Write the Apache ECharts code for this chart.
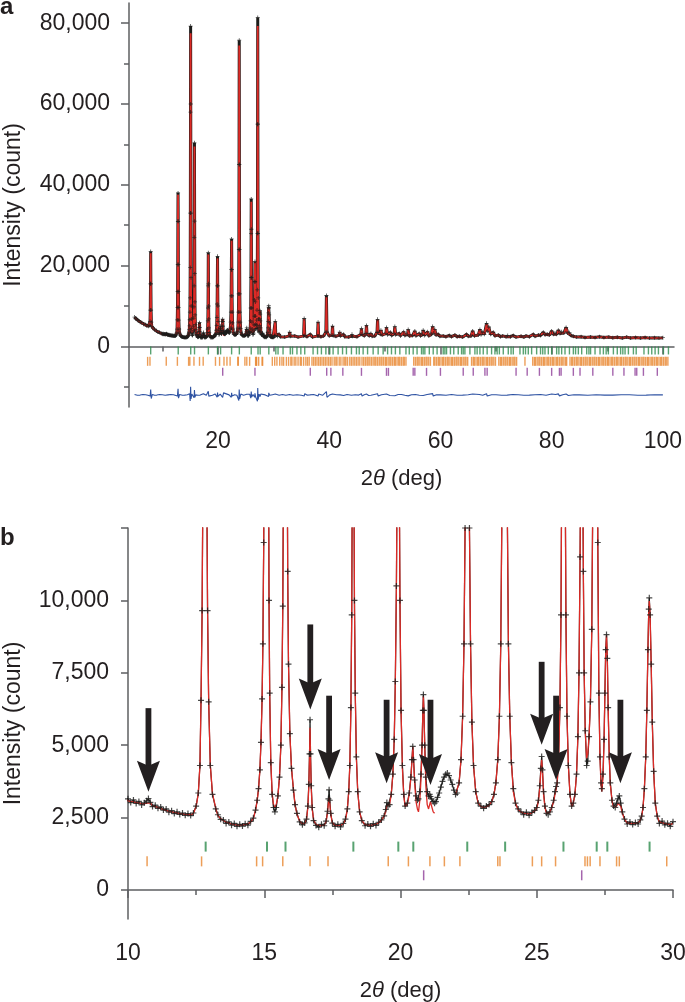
<!DOCTYPE html>
<html>
<head>
<meta charset="utf-8">
<script src="https://cdn.jsdelivr.net/npm/echarts@6/dist/echarts.min.js"></script>
<style>
html,body{margin:0;padding:0;background:#fff;}
#chart{width:685px;height:1002px;}
</style>
</head>
<body>
<div id="chart"></div>
<script>
// ---------- DATA ----------
// Profile 5–30 deg: [2theta, observed, calculated]; calculated omitted = same as observed; null = excluded region
const profileLow = [
[5.0,7250,7100],[5.2,6850,6900],[5.4,6700,6650],[5.6,6380,6450],[5.8,6300,6250],[6.0,6000,6080],[6.3,5850,5820],[6.6,5500,5560],[6.9,5400,5330],[7.2,5050,5120],[7.5,5000,4950],[7.7,5150,5100],
[7.78,6200,6100],[7.83,9000,8800],[7.87,15500,15000],[7.9,23500,23100],[7.93,15500,15200],[7.97,9000,8800],[8.02,6000],[8.1,4900,4950],[8.3,4500,4450],[8.6,4150,4200],[8.9,3950,3880],[9.2,3580,3650],[9.5,3480,3420],[9.8,3200,3250],
[10.0,3150,3080],[10.1,3020,3060],[10.2,3110,3040],[10.3,2990,3020],[10.4,3060,3000],[10.5,2940,2980],[10.6,3010,2970],[10.68,3080,3010],[10.75,3160,3060],[10.82,3030,3000],[10.9,2880,2920],[11.0,2930,2880],[11.1,2820,2850],[11.2,2870,2810],[11.3,2760,2780],[11.4,2800,2750],[11.5,2690,2720],[11.6,2740,2700],[11.7,2640,2680],[11.8,2700,2660],[11.9,2610,2640],[12.0,2660,2630],[12.1,2580,2610],[12.2,2640,2600],[12.3,2570,2600],[12.4,2660,2640],
[12.5,2900,2880],[12.58,3350,3330],[12.64,4300,4320],[12.68,6550],[12.72,9650],[12.745,13550,13500],[12.77,20250,20200],[12.795,30950,30900],[12.82,38000,37600],[12.845,30950,30900],[12.87,20250,20200],[12.895,13550,13500],[12.92,9650],[12.96,6500,6550],[13.02,4300,4320],[13.1,3300,3330],[13.22,2800,2830],
[13.3,2600,2560],[13.4,2440,2470],[13.5,2420,2400],[13.6,2300,2350],[13.7,2350,2310],[13.8,2240,2280],[13.9,2300,2260],[14.0,2200,2250],[14.1,2270,2240],[14.2,2210,2250],[14.3,2290,2260],[14.4,2240,2290],[14.5,2370,2350],
[14.6,2480,2470],[14.68,2760,2750],[14.74,3100,3080],[14.79,3500,3480],[14.84,4150],[14.88,5100],[14.92,6600,6550],[14.95,8500,8450],[14.98,12000,11900],[15.01,19500,19300],[15.035,33000,32500],[15.06,58000,57000],[15.08,79300,77500],[15.1,60000,59000],[15.125,33000],[15.15,17000],[15.175,10000],[15.2,6800],[15.24,4400,4450],[15.29,3300,3350],[15.34,2850,2950],[15.39,2700,2850],[15.44,2850,2950],
[15.5,3250],[15.56,3900],[15.61,5000],[15.65,7000],[15.68,9800],[15.71,15000],[15.74,27000],[15.77,50400,49500],[15.8,31000],[15.83,18000],[15.86,11000],[15.89,7800],[15.94,5400],[16.0,4200],[16.07,3450,3500],[16.13,2950],[16.2,2650,2620],
[16.3,2350,2380],[16.4,2250,2290],[16.48,2320,2290],
[16.55,2450,2420],[16.6,2900,2850],[16.635,3650,3550],[16.66,4700,4550],[16.68,5880,5600],[16.7,4700,4500],[16.725,3600,3500],[16.76,2850,2800],[16.81,2400,2420],
[16.9,2230,2270],[17.0,2170,2230],[17.1,2270,2220],[17.2,2220,2250],
[17.27,2380,2350],[17.32,2720,2650],[17.355,3150,3000],[17.38,3460,3180],[17.405,3100,2980],[17.44,2650,2600],[17.5,2310,2330],
[17.6,2200,2240],[17.7,2270,2230],[17.8,2180,2240],[17.9,2300,2280],[17.98,2450,2420],
[18.05,2800,2780],[18.1,3400],[18.14,4300],[18.18,6300],[18.21,9500],[18.235,15000],[18.26,23200,22800],[18.285,15500],[18.31,10000],[18.34,6800],[18.38,4600],[18.43,3400],[18.5,2700],[18.58,2400],
[18.7,2220,2260],[18.8,2280,2240],[18.9,2200,2240],[19.0,2290,2250],[19.1,2230,2280],[19.2,2340,2320],[19.3,2420,2400],
[19.4,2560,2550],[19.46,2780,2720],[19.5,3020,2900],[19.54,2900,2850],[19.6,2950],
[19.66,3300],[19.72,4000],[19.77,5200],[19.81,7200],[19.85,10500],[19.88,15000],[19.92,22300,21800],[19.95,15000],[19.98,10000],[20.02,6200],[20.07,4300,4200],[20.12,3300,3250],[20.17,2900,2880],
[20.25,3000,2950],[20.32,3350,3300],[20.38,3900,3850],[20.42,4500,4450],[20.45,4960,4950],[20.48,4500,4450],[20.52,3800,3700],[20.57,3250,3050],[20.62,3100,2800],[20.66,3150,2700],
[20.71,3400,3100],[20.75,4000,3800],[20.79,5000,4900],[20.82,6200,6100],[20.84,6750,6700],[20.86,6200],[20.89,5000,4900],[20.93,3900,3600],[20.98,3400,2950],
[21.03,3250,2800],[21.07,3300,2950],[21.1,3230,3050],[21.14,3150,2900],[21.2,3050,2700],[21.25,3000,2650],
[21.3,3050,null],[21.36,3200,null],[21.42,3350,null],[21.48,3550,null],[21.54,3750,null],[21.6,3900,null],[21.66,4000,null],[21.72,4040,null],[21.78,3950,null],[21.84,3800,null],[21.9,3650,null],[21.96,3450,null],[22.02,3300],
[22.08,3350],[22.15,3700],[22.22,4500],[22.28,6000],[22.33,8500],[22.37,12500],[22.41,19000],[22.45,26600,26200],[22.49,19000],[22.53,12500],[22.57,8500],[22.62,5800],[22.68,4300],[22.76,3400],[22.85,3000],
[22.95,2900,2880],[23.05,2820,2860],[23.15,2900,2870],[23.25,2950,2920],[23.35,3050],
[23.43,3300],[23.5,3700],[23.57,4500],[23.63,6000],[23.68,8500],[23.72,13000],[23.76,24000],[23.79,45000],[23.82,75800,74500],[23.85,45000],[23.88,24000],[23.92,13000],[23.96,8500],[24.01,6000],[24.07,4400],[24.14,3500,3400],[24.22,3000],[24.32,2800,2760],
[24.42,2700],[24.52,2600,2660],[24.62,2690,2640],[24.72,2580,2630],[24.82,2680,2660],[24.92,2750,2720],
[25.0,2850,2820],[25.06,3100,3050],[25.11,3600,3500],[25.15,4200,4100],[25.18,4610,4500],[25.21,4150,4100],[25.25,3400,3300],[25.3,2900,2850],[25.36,2650],[25.42,2600,2620],[25.48,2700,2680],
[25.55,2850],[25.62,3100,3050],[25.67,3400,3300],[25.71,3575,3460],[25.75,3700],[25.8,4500],[25.85,6300],[25.89,9500],[25.93,17000],[25.96,28000],[25.98,36500,35800],[26.0,29000],[26.03,17000],[26.07,9500],[26.11,6000],[26.16,4300],[26.22,3300],[26.28,2900,2880],[26.34,3000],
[26.4,3300],[26.46,4000],[26.51,5300],[26.55,7500],[26.59,11500],[26.62,16000],[26.65,21000,20700],[26.68,16000],[26.71,11000],[26.74,7500],[26.78,5500],[26.83,4300,4550],[26.87,4450,4700],
[26.92,5300],[26.97,6500],[27.02,9000],[27.06,14000],[27.1,28000],[27.13,55000],[27.15,81400,79300],[27.17,55000],[27.2,28000],[27.24,12000],[27.28,6800],[27.32,4600],[27.36,3700,3600],[27.39,3500,3400],
[27.43,4000,3900],[27.47,5200,5100],[27.5,6800,6700],[27.53,8300,8200],[27.56,8820,8800],[27.59,8000],[27.62,6300],[27.66,4600],[27.7,3700,3650],[27.76,3100],[27.82,2900,2850],[27.88,2850,2800],
[27.93,3000,2900],[27.98,3150,3000],[28.03,3250,3050],[28.08,3000,2900],[28.14,2700,2650],[28.22,2450],
[28.32,2280,2320],[28.42,2350,2300],[28.52,2260,2300],[28.62,2330,2310],[28.72,2280,2330],[28.8,2420,2400],
[28.85,2550],[28.9,2850],[28.95,3500],[29.0,4600],[29.04,6200],[29.08,8300],[29.11,9700,9600],[29.13,10090,9980],[29.16,9500],[29.2,7800],[29.24,5800],[29.29,4100],[29.35,3000],[29.42,2550],
[29.5,2300,2360],[29.6,2380,2320],[29.7,2250,2300],[29.8,2310,2280],[29.9,2200,2270],[30.0,2360,2290]
];

// Profile 30–100 deg (panel a only): [2theta, observed, calculated]
const profileHigh = [
[30.1,2300],[30.2,2600],[30.3,6200,6100],[30.4,2700],[30.7,2500],[31.0,3000],[31.2,2400],[32.0,2300],[32.8,2600],[32.9,3500,3400],[33.0,2500],[33.8,2600],[34.4,2300],
[35.4,2600],[35.5,6900,6800],[35.6,2700],[36.0,2400],[36.6,3000],[37.0,2300],[37.9,2600],[38.0,6000,5900],[38.1,2600],[38.5,2400],[39.0,2600],
[39.4,3500],[39.5,12600,12200],[39.6,3600],[40.0,2600],[40.5,2800],[40.6,5000,4900],[40.7,2700],[41.2,2500],[41.8,2800],[41.9,3500],[42.0,2600],[42.6,3000],[42.8,2400],[43.5,2300],[44.0,2600],[44.1,3000],[44.2,2500],[45.0,2400],
[45.7,3000],[45.8,4400,4300],[45.9,3000],[46.3,2600],[46.6,3200],[46.7,5200,5100],[46.8,3100],[47.2,2600],[47.5,3200],[47.7,2500],[48.2,2600],[48.6,3500],[48.7,6700,6600],[48.8,3400],[49.2,3000],[49.3,4000],[49.5,2800],
[50.2,3200],[50.3,4700,4600],[50.5,2900],[51.0,3500],[51.2,2700],[51.7,3200],[51.8,4900,4800],[51.95,2900],[52.6,3200],[52.8,2600],[53.4,3600],[53.6,2700],[54.1,3000],[54.2,4200,4100],[54.4,2600],[55.0,2700],[55.4,3800],[55.6,2600],
[56.2,3200],[56.4,2600],[56.8,3000],[56.9,4000,3900],[57.1,2700],[57.7,3600],[57.9,2600],[58.4,3000],[58.6,4900,4800],[58.8,3300],[59.0,4200],[59.2,2800],[59.6,3000],[59.9,2500],
[60.5,2600],[61.0,2400],[61.6,2700],[62.0,2400],[62.6,2800],[63.0,2400],[63.4,2500],[64.0,2300],[64.7,3000],[65.0,2500],[65.5,2600],[65.8,3800],[66.1,2600],[66.8,2800],[67.1,4200,4100],[67.3,2900],[67.6,3500],[67.9,3000],[68.3,5700,5500],[68.5,3800],[68.7,4800],[69.0,3000],[69.5,3500],[69.8,2600],
[70.4,2800],[70.8,2400],[71.2,2600],[71.8,2400],[72.1,2700],[72.6,2400],[73.1,2700],[73.6,2300],[74.5,2500],[75.0,2300],[75.4,2600],[76.0,2400],[76.7,3000],[77.0,2500],[77.6,2800],[78.0,2700],[78.5,3500],[78.8,2900],[79.2,3000],[79.6,2800],
[80.0,3800],[80.3,3000],[80.6,3300],[80.9,3000],[81.2,4000],[81.5,3200],[81.8,3600],[82.2,3300],[82.6,4700,4600],[82.9,3300],[83.2,3400],[83.5,2700],[83.9,2500],[84.5,2300],
[85.3,2400],[86.0,2200],[87.0,2300],[87.8,2200],[88.6,2400],[89.4,2200],[90.3,2300],[91.0,2150],[91.8,2250],[92.7,2100],[93.5,2300],[94.2,2100],[95.1,2200],[96.0,2100],[96.8,2200],[97.6,2050],[98.5,2150],[99.3,2050],[100.0,2150]
];

// Difference curve (obs - calc, offset), panel a
const diffCurve = [
[5,-11900],[5.5,-12100],[6,-12050],[6.5,-11900],[7,-11950],[7.4,-12100],[7.8,-12300],[7.9,-10700],[8.0,-12900],[8.2,-11900],[8.6,-12100],[9,-12050],[9.5,-11900],[10,-11950],[10.5,-12100],[11,-12000],[11.5,-11900],[12,-11950],[12.7,-12300],[12.82,-10500],[12.9,-12800],[13.1,-11900],[13.6,-12100],[14,-12050],[14.5,-11950],[14.9,-11700],[15.0,-13500],[15.08,-10000],[15.15,-13000],[15.3,-11800],[15.7,-12700],[15.77,-10800],[15.85,-12600],[16.0,-12000],[16.4,-12100],[16.68,-11650],[16.8,-12050],[17.1,-11950],[17.38,-11700],[17.6,-12000],[17.9,-12100],[18.2,-12500],[18.26,-11100],[18.35,-12300],[18.6,-11950],[19.0,-12100],[19.5,-11800],[19.85,-12600],[19.92,-11400],[20.0,-12400],[20.4,-11800],[20.65,-11500],[20.84,-12600],[21.0,-11500],[21.25,-11700],[22.0,-12000],[22.4,-12600],[22.45,-11500],[22.55,-12300],[23.0,-11950],[23.4,-12100],[23.75,-13400],[23.82,-10700],[23.9,-13000],[24.1,-11800],[24.6,-12100],[25.18,-11850],[25.4,-12100],[25.71,-11850],[25.9,-12800],[25.98,-11200],[26.06,-12500],[26.3,-11900],[26.6,-12600],[26.65,-11600],[26.75,-12400],[26.86,-12200],[27.1,-13600],[27.15,-10300],[27.22,-13200],[27.4,-11800],[27.56,-12400],[27.7,-11800],[28.03,-11800],[28.5,-12000],[28.8,-12100],[29.1,-12400],[29.13,-11500],[29.3,-12100],
[29.8,-11950],[30.3,-11800],[30.6,-12150],[31,-12100],[31.6,-11900],[32.2,-12100],[32.9,-11900],[33.5,-12100],[34.2,-11950],[35.0,-12100],[35.5,-12300],[35.6,-11700],[36.0,-12050],[36.5,-12000],[37.2,-11900],[38.0,-12300],[38.1,-11800],[38.8,-12100],[39.5,-11200],[39.6,-12600],[40.1,-12000],[40.6,-11800],[40.7,-12200],[41.3,-11950],[42,-12000],[42.6,-12150],[43.2,-11900],[44,-12100],[44.7,-11950],[45.3,-12050],[45.8,-11700],[45.9,-12300],[46.3,-11950],[46.7,-11800],[47.1,-12150],[47.5,-12100],[48.1,-11900],[48.7,-11700],[48.8,-12300],[49.4,-11950],[50.3,-11800],[50.9,-12150],[51.8,-12200],[52.4,-11900],[53,-11900],[53.6,-12100],[54.2,-12250],[54.8,-11950],[55.5,-11900],[56.2,-12100],[56.9,-12150],[57.6,-11900],[58.6,-11700],[58.7,-12300],[59.3,-11950],[60,-12000],[61,-12100],[62,-11900],[63,-12100],[64,-12050],[65,-11950],[65.8,-11800],[66,-12200],[67,-11900],[67.6,-12100],[68.3,-11700],[68.4,-12300],[69.2,-11950],[70,-11950],[71,-12100],[72,-12050],[73,-11900],[74,-11950],[75,-12100],[76,-12050],[77,-11950],[78,-11900],[79,-12100],[79.6,-11900],[80,-11800],[80.2,-12200],[80.7,-11900],[81.2,-11750],[81.4,-12250],[82,-11950],[82.6,-11800],[83,-12150],[84,-11950],[85,-12000],[86.5,-12100],[88,-11950],[89.5,-12050],[91,-12050],[92.5,-11950],[94,-11950],[95.5,-12100],[97,-12050],[98.5,-11950],[100,-12000]
];

// Reflection positions (2theta) of the three phases
const greenTicks = [7.9,12.85,15.1,15.78,18.27,19.92,20.47,22.45,23.84,25.98,27.2,27.59,29.14,
30.4,30.8,31.7,33.0,33.4,34.2,34.9,35.6,37.1,37.9,38.6,39.4,40.1,40.7,41.6,42.4,43.1,44.0,44.9,45.4,46.1,46.9,47.9,48.8,49.7,50.5,51.2,51.9,52.7,53.8,54.4,55.1,55.8,56.6,56.9,57.2,58.0,58.7,59.4,60.5,60.8,61.1,61.8,62.4,63.2,63.8,64.1,64.4,65.3,66.2,66.6,67.1,67.7,68.4,69.2,69.8,70.2,70.6,71.3,72.2,72.7,73.1,74.3,74.9,75.3,75.8,76.4,77.3,78.0,78.4,78.8,79.4,80.0,80.9,81.3,81.8,82.4,83.2,83.9,84.3,84.8,85.4,86.3,86.7,87.0,87.8,88.7,89.3,89.8,90.2,91.1,91.8,92.4,92.8,93.2,93.8,94.7,95.2,96.6,97.4,98.0,98.6,99.2,100.1,101.0];
const orangeTicks = [7.35,7.77,10.7,12.7,14.72,14.94,15.68,16.68,17.34,19.55,20.29,21.08,21.61,22.18,23.57,23.65,24.84,25.18,25.69,26.77,26.86,26.96,27.32,27.93,28.03,29.77,
30.2,30.6,31.1,31.5,31.8,32.3,32.7,33.1,33.3,33.7,34.0,34.4,34.8,35.0,35.4,35.8,36.1,36.4,36.9,37.2,37.5,37.8,38.1,38.4,38.7,39.0,39.3,39.6,39.9,40.2,40.5,40.9,41.2,41.4,41.8,42.1,42.5,42.8,43.0,43.3,43.7,44.0,44.3,44.6,44.9,45.2,45.5,45.9,46.2,46.5,46.8,47.0,47.3,47.6,47.9,48.2,48.4,48.7,49.0,49.3,49.5,49.8,50.1,50.3,50.6,50.9,51.1,51.4,51.7,51.9,52.2,52.5,52.7,53.0,53.3,53.5,53.8,
55.2,55.5,55.8,56.0,56.3,56.6,56.8,57.1,57.4,57.6,57.9,58.2,58.8,59.0,59.3,59.6,59.8,60.1,60.4,60.6,60.9,61.2,61.4,61.7,62.0,62.2,62.5,62.8,63.0,63.3,63.6,63.8,64.1,64.4,64.6,64.9,65.6,65.9,66.1,66.4,66.7,66.9,67.2,67.5,67.7,68.0,68.3,68.5,68.8,69.1,69.3,69.6,69.9,70.5,70.8,71.0,71.3,71.6,71.8,72.1,72.4,72.6,72.9,73.2,73.4,73.7,75.2,76.6,76.9,77.1,77.4,77.7,77.9,78.2,78.5,78.7,79.0,79.3,79.5,79.8,80.1,80.3,80.6,80.9,81.1,81.4,81.7,81.9,82.2,82.5,82.7,83.3,83.6,83.8,84.1,84.4,84.6,84.9,85.2,85.4,85.7,86.0,86.2,86.5,86.8,87.0,87.3,87.6,87.8,88.1,88.4,88.6,88.9,89.2,89.4,89.7,90.0,90.2,90.5,90.8,91.0,91.3,91.6,91.8,92.1,92.4,92.6,92.9,93.2,93.4,93.7,94.0,94.2,94.5,94.8,95.0,95.3,95.6,95.8,96.1,96.4,96.6,96.9,97.2,97.4,97.7,98.0,98.2,98.5,98.8,99.0,99.3,99.6,99.8,100.1,100.4,100.6,100.9];
const purpleTicks = [20.85,26.65,36.6,39.55,40.3,42.45,45.8,50.3,50.65,55.1,55.4,57.5,60.0,64.1,65.9,68.0,68.4,73.6,75.6,77.8,80.0,81.4,81.7,83.9,85.1,87.4,91.0,93.0,95.0,95.3,96.5,99.0];

// Arrows in panel b: [2theta, shaft top intensity, tip intensity]
const arrowsB = [[10.75,6280,3390],[16.69,9170,6230],[17.38,6710,3800],[19.49,6570,3690],[21.1,6570,3630],[25.18,7880,5020],[25.71,6710,3800],[28.07,6570,3690]];

// Axis ticks / labels
const yTicksA = [0,20000,40000,60000,80000];
const yMinorA = [-10000,10000,30000,50000,70000];
const xTicksA = [20,40,60,80,100];
const xMinorA = [10,30,50,70,90];
const yTicksB = [0,2500,5000,7500,10000,12500];
const yLabelsB = [0,2500,5000,7500,10000];

// ---------- STYLE ----------
const FONT = "'Liberation Sans', Arial, Helvetica, sans-serif";
const TXT = '#231f20', AX = '#5e5f61';
const RED = '#dc2a26', BLK = '#1d1d1b', BLUE = '#2f53a3';
const GREEN = '#2e8c4e', ORANGE = '#e8862e', PURPLE = '#8f3f98', ARROW = '#231f20';
const CROSS = 'path://M4,0H6V10H4ZM0,4H10V6H0Z';
const rowA = { g: -1000, o: -3700, p: -6300 };
const rowB = { g: 1500, o: 990, p: 510 };

const obsOf = rows => rows.map(r => [r[0], r[1]]);
const calcOf = rows => rows.map(r => [r[0], r[2] === undefined ? r[1] : r[2]]);
const allRows = profileLow.concat(profileHigh);
const fmt = v => Number(v).toLocaleString('en-US');

const axisLine = { show: true, lineStyle: { color: AX, width: 1.5 } };
const tickLine = { color: AX, width: 1.5 };
const labelStyle = { color: TXT, fontSize: 23, fontFamily: FONT };
const xName = '2{i|θ} (deg)';
const xNameStyle = { color: TXT, fontSize: 22, fontFamily: FONT, rich: { i: { fontStyle: 'italic', fontSize: 22, fontFamily: FONT, color: TXT } } };
const yNameStyle = { color: TXT, fontSize: 23, fontFamily: FONT };

function tickSeries(name, ticks, row, color, xi, yi, size) {
  return { name, type: 'scatter', xAxisIndex: xi, yAxisIndex: yi, symbol: 'rect', symbolSize: size,
    itemStyle: { color }, data: ticks.map(t => [t, row]), silent: true, z: 3, clip: true };
}

function renderArrow(params, api) {
  const top = api.coord([api.value(0), api.value(1)]);
  const tip = api.coord([api.value(0), api.value(2)]);
  const x = tip[0];
  const headLen = 31, headHalf = 11.5, notch = 5, shaftHalf = 2.9;
  const baseY = tip[1] - headLen;
  return { type: 'group', children: [
    { type: 'rect', shape: { x: x - shaftHalf, y: top[1], width: shaftHalf * 2, height: baseY + notch - top[1] + 1 }, style: { fill: ARROW } },
    { type: 'polygon', shape: { points: [[x - headHalf, baseY], [x, baseY + notch], [x + headHalf, baseY], [x, tip[1]]] }, style: { fill: ARROW } }
  ]};
}

const chart = echarts.init(document.getElementById('chart'), null, { renderer: 'canvas' });
chart.setOption({
  animation: false,
  backgroundColor: '#fff',
  title: [
    { text: 'a', left: 0, top: -5, padding: 0, textStyle: { fontSize: 24, fontWeight: 'bold', color: TXT, fontFamily: FONT } },
    { text: 'b', left: 0, top: 526, padding: 0, textStyle: { fontSize: 24, fontWeight: 'bold', color: TXT, fontFamily: FONT } }
  ],
  grid: [
    { left: 129, top: 3, width: 545, height: 404, containLabel: false, outerBoundsMode: 'none' },
    { left: 128, top: 528, width: 545, height: 391, containLabel: false, outerBoundsMode: 'none' }
  ],
  xAxis: [
    { gridIndex: 0, type: 'value', min: 4, max: 102, axisLine,
      axisTick: { show: true, customValues: xTicksA, length: 8, lineStyle: tickLine },
      axisLabel: { show: true, customValues: xTicksA, margin: 23, ...labelStyle },
      splitLine: { show: false },
      name: xName, nameLocation: 'middle', nameGap: 61, nameTextStyle: xNameStyle },
    { gridIndex: 0, type: 'value', min: 4, max: 102, position: 'bottom', axisLine: { show: false },
      axisTick: { show: true, customValues: xMinorA, length: 5, lineStyle: tickLine },
      axisLabel: { show: false }, splitLine: { show: false } },
    { gridIndex: 1, type: 'value', min: 10, max: 30, interval: 5, axisLine,
      axisTick: { show: true, length: 8, lineStyle: tickLine },
      minorTick: { show: true, splitNumber: 2, length: 5, lineStyle: tickLine },
      axisLabel: { show: true, margin: 23, ...labelStyle },
      splitLine: { show: false },
      name: xName, nameLocation: 'middle', nameGap: 61, nameTextStyle: xNameStyle }
  ],
  yAxis: [
    { gridIndex: 0, type: 'value', min: -15000, max: 85000, axisLine,
      axisTick: { show: true, customValues: yTicksA, length: 8, lineStyle: tickLine },
      axisLabel: { show: true, customValues: yTicksA, margin: 19, formatter: fmt, ...labelStyle },
      splitLine: { show: false },
      name: 'Intensity (count)', nameLocation: 'middle', nameGap: 104, nameRotate: 90, nameTextStyle: yNameStyle },
    { gridIndex: 0, type: 'value', min: -15000, max: 85000, position: 'left', axisLine: { show: false },
      axisTick: { show: true, customValues: yMinorA, length: 5, lineStyle: tickLine },
      axisLabel: { show: false }, splitLine: { show: false } },
    { gridIndex: 1, type: 'value', min: -1000, max: 12500, axisLine,
      axisTick: { show: true, customValues: yTicksB, length: 7, lineStyle: tickLine },
      axisLabel: { show: true, customValues: yLabelsB, margin: 19, formatter: fmt, ...labelStyle },
      splitLine: { show: false },
      name: 'Intensity (count)', nameLocation: 'middle', nameGap: 103, nameRotate: 90, nameTextStyle: yNameStyle }
  ],
  series: [
    // ----- panel a -----
    { name: 'obsA-line', type: 'line', xAxisIndex: 0, yAxisIndex: 0, data: obsOf(allRows), showSymbol: false,
      lineStyle: { color: BLK, width: 3 }, z: 1, silent: true },
    { name: 'calcA', type: 'line', xAxisIndex: 0, yAxisIndex: 0, data: calcOf(allRows), showSymbol: false, connectNulls: false,
      lineStyle: { color: RED, width: 1.8 }, z: 2, silent: true },
    { name: 'obsA', type: 'scatter', xAxisIndex: 0, yAxisIndex: 0, data: obsOf(allRows), symbol: CROSS, symbolSize: 4,
      itemStyle: { color: BLK }, z: 3, silent: true },
    { name: 'diffA', type: 'line', xAxisIndex: 0, yAxisIndex: 0, data: diffCurve, showSymbol: false,
      lineStyle: { color: BLUE, width: 1.1 }, z: 2, silent: true },
    tickSeries('gA', greenTicks, rowA.g, GREEN, 0, 0, [1.4, 8]),
    tickSeries('oA', orangeTicks, rowA.o, ORANGE, 0, 0, [1.4, 9]),
    tickSeries('pA', purpleTicks, rowA.p, PURPLE, 0, 0, [1.4, 8]),
    // ----- panel b -----
    { name: 'obsB-line', type: 'line', xAxisIndex: 2, yAxisIndex: 2, data: obsOf(profileLow), showSymbol: false,
      lineStyle: { color: BLK, width: 1.2 }, z: 1, clip: true, silent: true },
    { name: 'calcB', type: 'line', xAxisIndex: 2, yAxisIndex: 2, data: calcOf(profileLow), showSymbol: false, connectNulls: false,
      lineStyle: { color: RED, width: 1.3 }, z: 2, clip: true, silent: true },
    { name: 'obsB', type: 'scatter', xAxisIndex: 2, yAxisIndex: 2, data: obsOf(profileLow), symbol: CROSS, symbolSize: 6,
      itemStyle: { color: BLK }, z: 3, clip: true, silent: true },
    tickSeries('gB', greenTicks, rowB.g, GREEN, 2, 2, [2, 10]),
    tickSeries('oB', orangeTicks, rowB.o, ORANGE, 2, 2, [1.5, 10]),
    tickSeries('pB', purpleTicks, rowB.p, PURPLE, 2, 2, [1.5, 10]),
    { name: 'arrows', type: 'custom', xAxisIndex: 2, yAxisIndex: 2, data: arrowsB, renderItem: renderArrow, z: 5, silent: true }
  ]
});
</script>
</body>
</html>
